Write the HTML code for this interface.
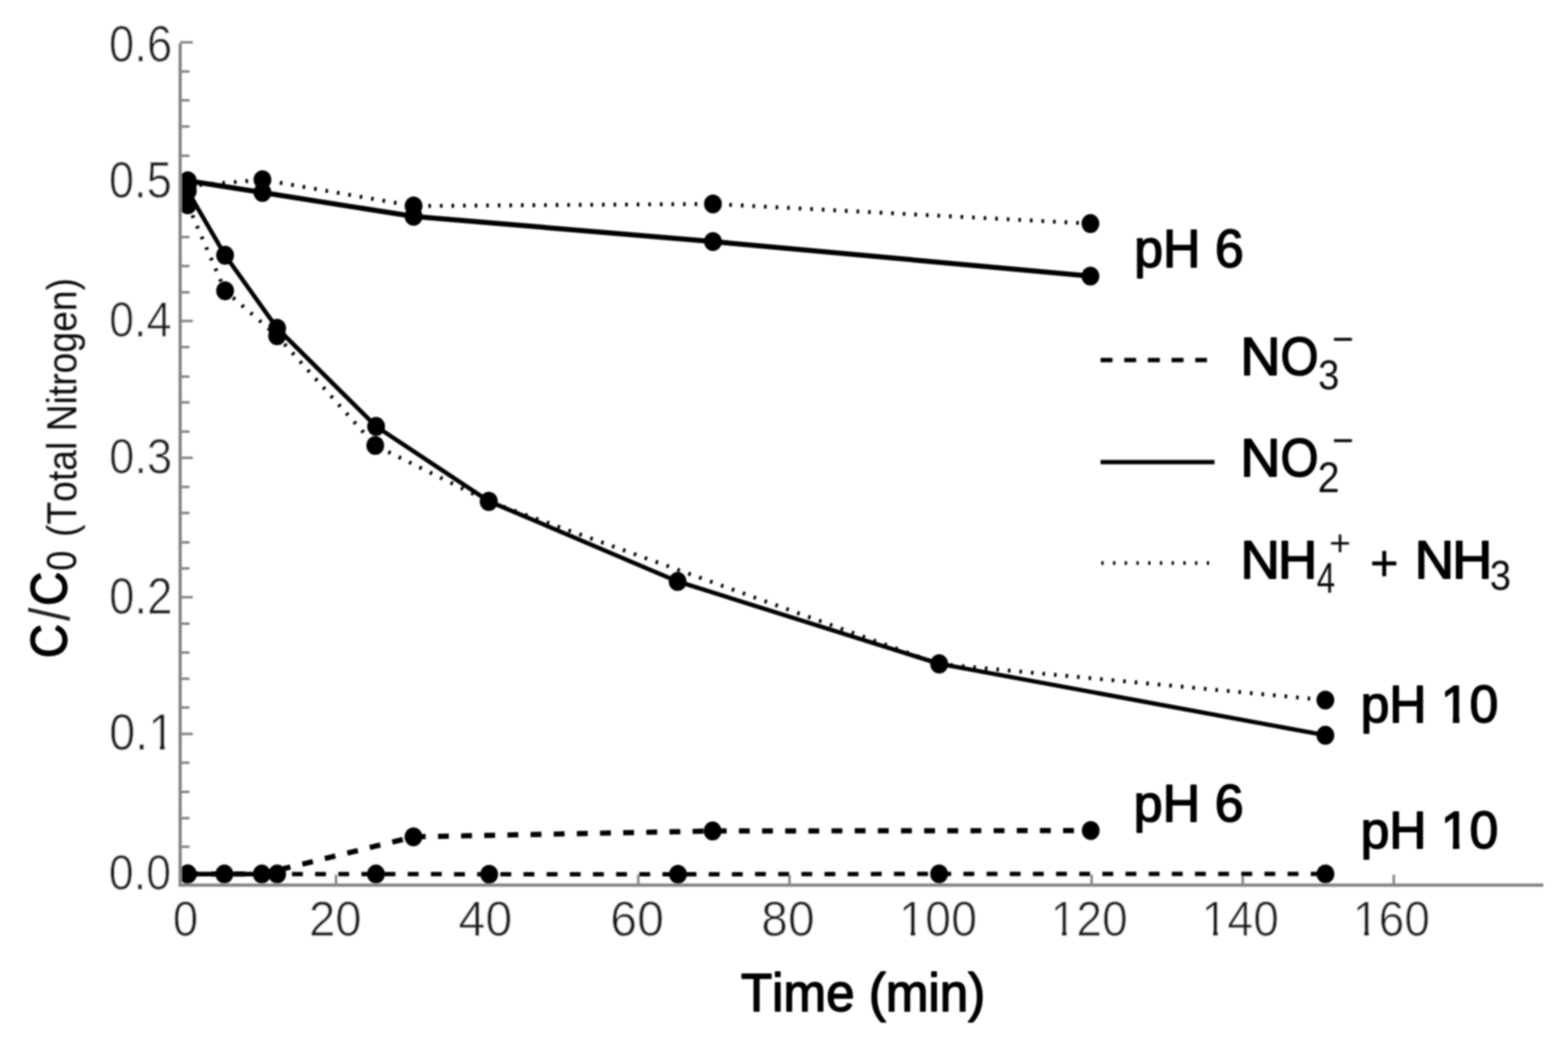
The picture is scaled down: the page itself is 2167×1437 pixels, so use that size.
<!DOCTYPE html>
<html><head><meta charset="utf-8"><title>C/C0 vs Time</title>
<style>
html,body{margin:0;padding:0;background:#fff;}
body{width:2167px;height:1437px;overflow:hidden;}
svg{display:block;}
text{font-family:"Liberation Sans",Arial,sans-serif;font-kerning:none;}
</style></head>
<body>
<svg width="2167" height="1437" viewBox="0 0 2167 1437">
<defs><clipPath id="one0" clipPathUnits="userSpaceOnUse"><rect x="-5.00" y="-97.88" width="29.37" height="91.36"/><rect x="17.28" y="-7.02" width="6.78" height="28.00"/></clipPath><clipPath id="one1" clipPathUnits="userSpaceOnUse"><rect x="-5.00" y="-96.89" width="29.12" height="90.42"/><rect x="17.10" y="-6.97" width="6.72" height="27.73"/></clipPath><clipPath id="one2" clipPathUnits="userSpaceOnUse"><rect x="-5.00" y="-96.89" width="29.12" height="90.42"/><rect x="17.10" y="-6.97" width="6.72" height="27.73"/></clipPath><clipPath id="one3" clipPathUnits="userSpaceOnUse"><rect x="-5.00" y="-96.89" width="29.12" height="90.42"/><rect x="17.10" y="-6.97" width="6.72" height="27.73"/></clipPath><clipPath id="one4" clipPathUnits="userSpaceOnUse"><rect x="-5.00" y="-96.89" width="29.12" height="90.42"/><rect x="17.10" y="-6.97" width="6.72" height="27.73"/></clipPath><clipPath id="one5" clipPathUnits="userSpaceOnUse"><rect x="-5.00" y="-99.91" width="30.87" height="92.28"/><rect x="16.65" y="-8.13" width="8.91" height="29.54"/></clipPath><clipPath id="one6" clipPathUnits="userSpaceOnUse"><rect x="-5.00" y="-99.91" width="30.87" height="92.28"/><rect x="16.65" y="-8.13" width="8.91" height="29.54"/></clipPath><filter id="soft" x="0" y="0" width="2167" height="1437" filterUnits="userSpaceOnUse"><feGaussianBlur stdDeviation="1.0"/></filter></defs>
<rect width="2167" height="1437" fill="#fff"/>
<g filter="url(#soft)">
<text transform="translate(150.44,84.51) scale(0.8980,1)" font-size="70.20" font-weight="normal" fill="#1a1a1a" stroke="#fff" stroke-width="0.6" paint-order="fill stroke">0.6</text>
<text transform="translate(150.45,273.21) scale(0.8923,1)" font-size="70.20" font-weight="normal" fill="#1a1a1a" stroke="#fff" stroke-width="0.6" paint-order="fill stroke">0.5</text>
<text transform="translate(150.77,465.43) scale(0.9086,1)" font-size="68.36" font-weight="normal" fill="#1a1a1a" stroke="#fff" stroke-width="0.6" paint-order="fill stroke">0.4</text>
<text transform="translate(150.75,653.93) scale(0.9150,1)" font-size="68.64" font-weight="normal" fill="#1a1a1a" stroke="#fff" stroke-width="0.6" paint-order="fill stroke">0.3</text>
<text transform="translate(150.73,847.52) scale(0.9028,1)" font-size="69.91" font-weight="normal" fill="#1a1a1a" stroke="#fff" stroke-width="0.6" paint-order="fill stroke">0.2</text>
<text transform="translate(150.66,1035.72) scale(0.9315,1)" font-size="69.91" font-weight="normal" fill="#1a1a1a" stroke="#fff" stroke-width="0.6" paint-order="fill stroke">0.</text><text transform="translate(204.97,1035.72) scale(0.9315,1)" font-size="69.91" font-weight="normal" fill="#1a1a1a" stroke="#fff" stroke-width="0.6" paint-order="fill stroke" clip-path="url(#one0)">1</text>
<text transform="translate(150.28,1228.62) scale(0.8946,1)" font-size="69.35" font-weight="normal" fill="#1a1a1a" stroke="#fff" stroke-width="0.6" paint-order="fill stroke">0.0</text>
<text transform="translate(238.72,1293.02) scale(0.9159,1)" font-size="69.21" font-weight="normal" fill="#1a1a1a" stroke="#fff" stroke-width="0.6" paint-order="fill stroke">0</text>
<text transform="translate(426.90,1293.02) scale(0.9478,1)" font-size="69.21" font-weight="normal" fill="#1a1a1a" stroke="#fff" stroke-width="0.6" paint-order="fill stroke">20</text>
<text transform="translate(633.46,1293.02) scale(0.9685,1)" font-size="69.21" font-weight="normal" fill="#1a1a1a" stroke="#fff" stroke-width="0.6" paint-order="fill stroke">40</text>
<text transform="translate(843.30,1293.02) scale(0.9666,1)" font-size="69.21" font-weight="normal" fill="#1a1a1a" stroke="#fff" stroke-width="0.6" paint-order="fill stroke">60</text>
<text transform="translate(1052.11,1293.02) scale(0.9597,1)" font-size="69.21" font-weight="normal" fill="#1a1a1a" stroke="#fff" stroke-width="0.6" paint-order="fill stroke">80</text>
<text transform="translate(1242.58,1293.02) scale(0.9339,1)" font-size="69.21" font-weight="normal" fill="#1a1a1a" stroke="#fff" stroke-width="0.6" paint-order="fill stroke" clip-path="url(#one1)">1</text><text transform="translate(1278.53,1293.02) scale(0.9339,1)" font-size="69.21" font-weight="normal" fill="#1a1a1a" stroke="#fff" stroke-width="0.6" paint-order="fill stroke">00</text>
<text transform="translate(1451.95,1293.02) scale(0.9236,1)" font-size="69.21" font-weight="normal" fill="#1a1a1a" stroke="#fff" stroke-width="0.6" paint-order="fill stroke" clip-path="url(#one2)">1</text><text transform="translate(1487.50,1293.02) scale(0.9236,1)" font-size="69.21" font-weight="normal" fill="#1a1a1a" stroke="#fff" stroke-width="0.6" paint-order="fill stroke">20</text>
<text transform="translate(1660.86,1293.02) scale(0.9226,1)" font-size="69.21" font-weight="normal" fill="#1a1a1a" stroke="#fff" stroke-width="0.6" paint-order="fill stroke" clip-path="url(#one3)">1</text><text transform="translate(1696.37,1293.02) scale(0.9226,1)" font-size="69.21" font-weight="normal" fill="#1a1a1a" stroke="#fff" stroke-width="0.6" paint-order="fill stroke">40</text>
<text transform="translate(1869.65,1293.02) scale(0.9236,1)" font-size="69.21" font-weight="normal" fill="#1a1a1a" stroke="#fff" stroke-width="0.6" paint-order="fill stroke" clip-path="url(#one4)">1</text><text transform="translate(1905.20,1293.02) scale(0.9236,1)" font-size="69.21" font-weight="normal" fill="#1a1a1a" stroke="#fff" stroke-width="0.6" paint-order="fill stroke">60</text>
<text transform="translate(1023.91,1396.70) scale(0.9557,1)" font-size="73.98" font-weight="normal" fill="#000" stroke="#000" stroke-width="2.0" stroke-linejoin="round">Time (min)</text>
<g transform="rotate(-90)"><text transform="translate(-909.20,92.31) scale(0.9212,1)" font-size="70.62" font-weight="normal" fill="#000" stroke="#000" stroke-width="2.0" stroke-linejoin="round">C</text><text transform="translate(-858.00,95.63) scale(0.8444,1)" font-size="78.43" font-weight="normal" fill="#222">/</text><text transform="translate(-837.10,92.31) scale(0.9212,1)" font-size="70.62" font-weight="normal" fill="#000" stroke="#000" stroke-width="2.0" stroke-linejoin="round">C</text><text transform="translate(-788.76,105.44) scale(0.8777,1)" font-size="57.20" font-weight="normal" fill="#111">0</text><text transform="translate(-742.00,105.40) scale(0.8962,1)" font-size="57.50" font-weight="normal" fill="#111">(Total Nitrogen)</text></g>
<line x1="249" y1="98.8" x2="262" y2="98.8" stroke="#858585" stroke-width="3.5"/>
<line x1="249" y1="138.6" x2="262" y2="138.6" stroke="#858585" stroke-width="3.5"/>
<line x1="249" y1="174.8" x2="262" y2="174.8" stroke="#858585" stroke-width="3.5"/>
<line x1="249" y1="215.2" x2="262" y2="215.2" stroke="#858585" stroke-width="3.5"/>
<line x1="249" y1="288.0" x2="262" y2="288.0" stroke="#858585" stroke-width="3.5"/>
<line x1="249" y1="327.6" x2="262" y2="327.6" stroke="#858585" stroke-width="3.5"/>
<line x1="249" y1="367.6" x2="262" y2="367.6" stroke="#858585" stroke-width="3.5"/>
<line x1="249" y1="403.9" x2="262" y2="403.9" stroke="#858585" stroke-width="3.5"/>
<line x1="249" y1="479.6" x2="262" y2="479.6" stroke="#858585" stroke-width="3.5"/>
<line x1="249" y1="520.4" x2="262" y2="520.4" stroke="#858585" stroke-width="3.5"/>
<line x1="249" y1="556.0" x2="262" y2="556.0" stroke="#858585" stroke-width="3.5"/>
<line x1="249" y1="596.4" x2="262" y2="596.4" stroke="#858585" stroke-width="3.5"/>
<line x1="249" y1="672.8" x2="262" y2="672.8" stroke="#858585" stroke-width="3.5"/>
<line x1="249" y1="708.8" x2="262" y2="708.8" stroke="#858585" stroke-width="3.5"/>
<line x1="249" y1="749.4" x2="262" y2="749.4" stroke="#858585" stroke-width="3.5"/>
<line x1="249" y1="785.4" x2="262" y2="785.4" stroke="#858585" stroke-width="3.5"/>
<line x1="249" y1="861.8" x2="262" y2="861.8" stroke="#858585" stroke-width="3.5"/>
<line x1="249" y1="901.6" x2="262" y2="901.6" stroke="#858585" stroke-width="3.5"/>
<line x1="249" y1="937.8" x2="262" y2="937.8" stroke="#858585" stroke-width="3.5"/>
<line x1="249" y1="977.6" x2="262" y2="977.6" stroke="#858585" stroke-width="3.5"/>
<line x1="249" y1="1053.9" x2="262" y2="1053.9" stroke="#858585" stroke-width="3.5"/>
<line x1="249" y1="1094.2" x2="262" y2="1094.2" stroke="#858585" stroke-width="3.5"/>
<line x1="249" y1="1130.5" x2="262" y2="1130.5" stroke="#858585" stroke-width="3.5"/>
<line x1="249" y1="1170.0" x2="262" y2="1170.0" stroke="#858585" stroke-width="3.5"/>
<line x1="249" y1="58.5" x2="266.5" y2="58.5" stroke="#858585" stroke-width="3.5"/>
<line x1="249" y1="250.0" x2="266.5" y2="250.0" stroke="#858585" stroke-width="3.5"/>
<line x1="249" y1="443.5" x2="266.5" y2="443.5" stroke="#858585" stroke-width="3.5"/>
<line x1="249" y1="632.6" x2="266.5" y2="632.6" stroke="#858585" stroke-width="3.5"/>
<line x1="249" y1="825.2" x2="266.5" y2="825.2" stroke="#858585" stroke-width="3.5"/>
<line x1="249" y1="1014.1" x2="266.5" y2="1014.1" stroke="#858585" stroke-width="3.5"/>
<line x1="249" y1="1207.5" x2="266.5" y2="1207.5" stroke="#858585" stroke-width="3.5"/>
<line x1="255.6" y1="1223" x2="255.6" y2="1208.5" stroke="#858585" stroke-width="3.5"/>
<line x1="464.4" y1="1223" x2="464.4" y2="1208.5" stroke="#858585" stroke-width="3.5"/>
<line x1="673.3" y1="1223" x2="673.3" y2="1208.5" stroke="#858585" stroke-width="3.5"/>
<line x1="882.1" y1="1223" x2="882.1" y2="1208.5" stroke="#858585" stroke-width="3.5"/>
<line x1="1091.0" y1="1223" x2="1091.0" y2="1208.5" stroke="#858585" stroke-width="3.5"/>
<line x1="1299.8" y1="1223" x2="1299.8" y2="1208.5" stroke="#858585" stroke-width="3.5"/>
<line x1="1508.6" y1="1223" x2="1508.6" y2="1208.5" stroke="#858585" stroke-width="3.5"/>
<line x1="1717.5" y1="1223" x2="1717.5" y2="1208.5" stroke="#858585" stroke-width="3.5"/>
<line x1="1926.3" y1="1223" x2="1926.3" y2="1208.5" stroke="#858585" stroke-width="3.5"/>
<path d="M259.5,257.0 L362.7,248.3 L571.6,284.6 L985.3,281.8 L1507.0,308.9" fill="none" stroke="#000" stroke-dasharray="3.6 12.4" stroke-width="5.4"/>
<path d="M259.5,283.0 L311.1,401.8 L383.0,464.0 L518.6,615.5 L675.5,693.0 L1298.0,917.5 L1831.7,967.3" fill="none" stroke="#000" stroke-dasharray="3.6 12.4" stroke-width="5.4"/>
<path d="M259.5,249.8 L362.7,266.0 L571.6,299.0 L985.3,333.8 L1507.0,381.5" fill="none" stroke="#000" stroke-width="7"/>
<path d="M259.5,264.0 L311.1,352.7 L383.0,453.5 L519.8,589.2 L675.5,692.5 L936.5,803.4 L1298.0,917.2 L1831.7,1015.9" fill="none" stroke="#000" stroke-width="6.0"/>
<path d="M259.5,1207.7 L361.8,1207.7 L571.4,1156.3 L984.8,1148.2 L1507.4,1147.6" fill="none" stroke="#000" stroke-width="7.2" stroke-dasharray="15 17"/>
<path d="M259.5,1207.7 L310.1,1207.7 L383.1,1207.7 L519.6,1207.7 L676.1,1208.0 L937.0,1208.0 L1297.9,1207.5 L1831.8,1207.5" fill="none" stroke="#000" stroke-width="6.0" stroke-dasharray="15 17" stroke-dashoffset="16"/>
<path d="M259.5,1207.7 L383,1207.7" fill="none" stroke="#000" stroke-width="6.0"/>
<ellipse cx="259.5" cy="257" rx="12.3" ry="13.1" fill="#000"/>
<ellipse cx="362.7" cy="248.3" rx="12.3" ry="13.1" fill="#000"/>
<ellipse cx="571.6" cy="284.6" rx="12.3" ry="13.1" fill="#000"/>
<ellipse cx="985.3" cy="281.8" rx="12.3" ry="13.1" fill="#000"/>
<ellipse cx="1507" cy="308.9" rx="12.3" ry="13.1" fill="#000"/>
<ellipse cx="259.5" cy="249.8" rx="12.3" ry="13.1" fill="#000"/>
<ellipse cx="362.7" cy="266" rx="12.3" ry="13.1" fill="#000"/>
<ellipse cx="571.6" cy="299" rx="12.3" ry="13.1" fill="#000"/>
<ellipse cx="985.3" cy="333.8" rx="12.3" ry="13.1" fill="#000"/>
<ellipse cx="1507" cy="381.5" rx="12.3" ry="13.1" fill="#000"/>
<ellipse cx="259.5" cy="264" rx="12.3" ry="13.1" fill="#000"/>
<ellipse cx="311.1" cy="352.7" rx="12.3" ry="13.1" fill="#000"/>
<ellipse cx="383" cy="453.5" rx="12.3" ry="13.1" fill="#000"/>
<ellipse cx="519.8" cy="589.2" rx="12.3" ry="13.1" fill="#000"/>
<ellipse cx="675.5" cy="692.5" rx="12.3" ry="13.1" fill="#000"/>
<ellipse cx="936.5" cy="803.4" rx="12.3" ry="13.1" fill="#000"/>
<ellipse cx="1298" cy="917.2" rx="12.3" ry="13.1" fill="#000"/>
<ellipse cx="1831.7" cy="1015.9" rx="12.3" ry="13.1" fill="#000"/>
<ellipse cx="259.5" cy="283" rx="12.3" ry="13.1" fill="#000"/>
<ellipse cx="311.1" cy="401.8" rx="12.3" ry="13.1" fill="#000"/>
<ellipse cx="383" cy="464" rx="12.3" ry="13.1" fill="#000"/>
<ellipse cx="518.6" cy="615.5" rx="12.3" ry="13.1" fill="#000"/>
<ellipse cx="675.5" cy="693" rx="12.3" ry="13.1" fill="#000"/>
<ellipse cx="1298" cy="917.5" rx="12.3" ry="13.1" fill="#000"/>
<ellipse cx="1831.7" cy="967.3" rx="12.3" ry="13.1" fill="#000"/>
<ellipse cx="259.5" cy="1207.7" rx="12.3" ry="13.1" fill="#000"/>
<ellipse cx="361.8" cy="1207.7" rx="12.3" ry="13.1" fill="#000"/>
<ellipse cx="571.4" cy="1156.3" rx="12.3" ry="13.1" fill="#000"/>
<ellipse cx="984.8" cy="1148.2" rx="12.3" ry="13.1" fill="#000"/>
<ellipse cx="1507.4" cy="1147.6" rx="12.3" ry="13.1" fill="#000"/>
<ellipse cx="259.5" cy="1207.7" rx="12.3" ry="13.1" fill="#000"/>
<ellipse cx="310.1" cy="1207.7" rx="12.3" ry="13.1" fill="#000"/>
<ellipse cx="383.1" cy="1207.7" rx="12.3" ry="13.1" fill="#000"/>
<ellipse cx="519.6" cy="1207.7" rx="12.3" ry="13.1" fill="#000"/>
<ellipse cx="676.1" cy="1208" rx="12.3" ry="13.1" fill="#000"/>
<ellipse cx="937" cy="1208" rx="12.3" ry="13.1" fill="#000"/>
<ellipse cx="1297.9" cy="1207.5" rx="12.3" ry="13.1" fill="#000"/>
<ellipse cx="1831.8" cy="1207.5" rx="12.3" ry="13.1" fill="#000"/>
<line x1="249" y1="60" x2="249" y2="1225" stroke="#858585" stroke-width="4.5"/>
<line x1="247" y1="1223" x2="2133" y2="1223" stroke="#858585" stroke-width="4.5"/>
<text transform="translate(1567.38,369.20) scale(0.9712,1)" font-size="73.84" font-weight="normal" fill="#000" stroke="#000" stroke-width="2.0" stroke-linejoin="round">pH 6</text>
<text transform="translate(1566.86,1135.40) scale(0.9941,1)" font-size="72.38" font-weight="normal" fill="#000" stroke="#000" stroke-width="2.0" stroke-linejoin="round">pH 6</text>
<text transform="translate(1880.41,998.30) scale(0.9986,1)" font-size="71.37" font-weight="normal" fill="#000" stroke="#000" stroke-width="2.0" stroke-linejoin="round">pH </text><text transform="translate(1991.31,998.30) scale(0.9986,1)" font-size="71.37" font-weight="normal" fill="#000" stroke="#000" stroke-width="2.0" stroke-linejoin="round" clip-path="url(#one5)">1</text><text transform="translate(2030.95,998.30) scale(0.9986,1)" font-size="71.37" font-weight="normal" fill="#000" stroke="#000" stroke-width="2.0" stroke-linejoin="round">0</text>
<text transform="translate(1880.41,1171.60) scale(0.9986,1)" font-size="71.37" font-weight="normal" fill="#000" stroke="#000" stroke-width="2.0" stroke-linejoin="round">pH </text><text transform="translate(1991.31,1171.60) scale(0.9986,1)" font-size="71.37" font-weight="normal" fill="#000" stroke="#000" stroke-width="2.0" stroke-linejoin="round" clip-path="url(#one6)">1</text><text transform="translate(2030.95,1171.60) scale(0.9986,1)" font-size="71.37" font-weight="normal" fill="#000" stroke="#000" stroke-width="2.0" stroke-linejoin="round">0</text>
<line x1="1521" y1="497.5" x2="1668" y2="497.5" stroke="#000" stroke-width="6.0" stroke-dasharray="16.5 16.2"/>
<line x1="1521" y1="638.5" x2="1678.5" y2="638.5" stroke="#000" stroke-width="6.0"/>
<line x1="1522" y1="778" x2="1672" y2="778" stroke="#000" stroke-dasharray="3.2 13" stroke-width="5.2"/>
<text transform="translate(1714.06,518.20) scale(1.0331,1)" font-size="74.86" font-weight="normal" fill="#000" stroke="#000" stroke-width="2.0" stroke-linejoin="round">N</text>
<text transform="translate(1769.81,518.20) scale(0.9002,1)" font-size="74.86" font-weight="normal" fill="#000" stroke="#000" stroke-width="2.0" stroke-linejoin="round">O</text>
<text transform="translate(1821.70,538.43) scale(0.9069,1)" font-size="57.91" font-weight="normal" fill="#111">3</text>
<text transform="translate(1840.97,488.31) scale(0.8836,1)" font-size="58.00" font-weight="normal" fill="#111">−</text>
<text transform="translate(1714.06,658.20) scale(1.0433,1)" font-size="74.13" font-weight="normal" fill="#000" stroke="#000" stroke-width="2.0" stroke-linejoin="round">N</text>
<text transform="translate(1769.81,658.20) scale(0.9091,1)" font-size="74.13" font-weight="normal" fill="#000" stroke="#000" stroke-width="2.0" stroke-linejoin="round">O</text>
<text transform="translate(1820.95,679.50) scale(0.9196,1)" font-size="59.43" font-weight="normal" fill="#111">2</text>
<text transform="translate(1840.97,628.31) scale(0.8836,1)" font-size="58.00" font-weight="normal" fill="#111">−</text>
<text transform="translate(1714.19,798.80) scale(1.0296,1)" font-size="73.55" font-weight="normal" fill="#000" stroke="#000" stroke-width="2.0" stroke-linejoin="round">N</text>
<text transform="translate(1765.89,798.80) scale(1.0296,1)" font-size="73.55" font-weight="normal" fill="#000" stroke="#000" stroke-width="2.0" stroke-linejoin="round">H</text>
<text transform="translate(1819.85,819.10) scale(0.7768,1)" font-size="59.01" font-weight="normal" fill="#111">4</text>
<text transform="translate(1836.90,767.27) scale(1.0070,1)" font-size="50.89" font-weight="normal" fill="#111">+</text>
<text transform="translate(1893.62,802.00) scale(0.9516,1)" font-size="70.51" font-weight="normal" fill="#000" stroke="#000" stroke-width="0.6" stroke-linejoin="round">+</text>
<text transform="translate(1955.09,798.80) scale(1.0296,1)" font-size="73.55" font-weight="normal" fill="#000" stroke="#000" stroke-width="2.0" stroke-linejoin="round">N</text>
<text transform="translate(2006.66,798.80) scale(1.0515,1)" font-size="73.55" font-weight="normal" fill="#000" stroke="#000" stroke-width="2.0" stroke-linejoin="round">H</text>
<text transform="translate(2058.90,814.84) scale(0.9158,1)" font-size="57.34" font-weight="normal" fill="#111">3</text>
</g>
</svg>
</body></html>
